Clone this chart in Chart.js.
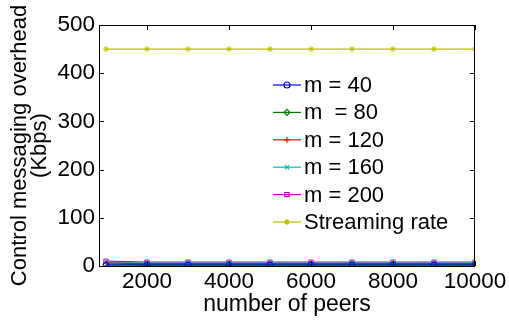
<!DOCTYPE html>
<html>
<head>
<meta charset="utf-8">
<script src="https://cdn.jsdelivr.net/npm/chart.js@4.4.0/dist/chart.umd.min.js"></script>
<style>
  html, body { margin: 0; padding: 0; background: #fff; }
  #wrap { width: 509px; height: 320px; }
</style>
</head>
<body>
<div id="wrap"><canvas id="myChart" width="509" height="320"></canvas></div>
<script>
// --- données ---
const peers = [1000, 2000, 3000, 4000, 5000, 6000, 7000, 8000, 9000, 10000];
const m40 = [2, 2, 2, 2, 2, 2, 2, 2, 2, 2];
const m80 = [4, 3, 3, 3, 3, 3, 3, 3, 3, 3];
const m120 = [6, 5, 5, 5, 5, 5, 5, 5, 5, 5];
const m160 = [8, 6, 6, 6, 6, 6, 6, 6, 6, 6];
const m200 = [10, 8, 8, 8, 8, 8, 8, 8, 8, 8];
const streamingRate = [450, 450, 450, 450, 450, 450, 450, 450, 450, 450];
const seriesLabels = ['m = 40', 'm  = 80', 'm = 120', 'm = 160', 'm = 200', 'Streaming rate'];
const yTicks = [0, 100, 200, 300, 400, 500];
const xTicks = [2000, 4000, 6000, 8000, 10000];

const FONT = 'Liberation Sans, Arial, sans-serif';

function pts(arr) { return arr.map((v, i) => ({ x: peers[i], y: v })); }

function ds(label, arr, color, style) {
    return {
        label, data: pts(arr), borderColor: color, backgroundColor: 'rgba(0,0,0,0)',
        pointStyle: style, pointRadius: 3, pointBorderColor: color, pointBorderWidth: 1,
        borderWidth: 1.2, tension: 0
    };
}

// cadre + petites graduations internes façon MATLAB, légende dans la zone
const matlabBox = {
    id: 'matlabBox',
    afterDraw(c) {
        const { ctx, chartArea: a, scales: { x, y } } = c;
        ctx.save();
        ctx.strokeStyle = '#000';
        ctx.lineWidth = 1;
        ctx.strokeRect(a.left + 0.5, a.top + 0.5, a.right - a.left - 1, a.bottom - a.top);
        ctx.beginPath();
        xTicks.forEach(t => {
            const px = Math.round(x.getPixelForValue(t)) + 0.5;
            ctx.moveTo(px, a.bottom); ctx.lineTo(px, a.bottom - 5);
            ctx.moveTo(px, a.top); ctx.lineTo(px, a.top + 5);
        });
        yTicks.forEach(t => {
            const py = Math.round(y.getPixelForValue(t)) + 0.5;
            ctx.moveTo(a.left, py); ctx.lineTo(a.left + 5, py);
            ctx.moveTo(a.right, py); ctx.lineTo(a.right - 5, py);
        });
        ctx.stroke();

        // légende
        const lx = 273, ly0 = 85, dy = 27.4;
        ctx.font = '22px ' + FONT;
        ctx.textBaseline = 'middle';
        ctx.textAlign = 'left';
        c.data.datasets.forEach((d, i) => {
            const yy = ly0 + i * dy;
            ctx.strokeStyle = d.borderColor;
            ctx.lineWidth = 1.2;
            ctx.beginPath(); ctx.moveTo(lx, yy); ctx.lineTo(lx + 28, yy); ctx.stroke();
            ctx.fillStyle = 'rgba(0,0,0,0)';
            Chart.helpers.drawPoint(ctx, { pointStyle: d.pointStyle, radius: 3, borderWidth: 1, rotation: 0 }, lx + 14, yy);
            ctx.fillStyle = '#000';
            ctx.fillText(seriesLabels[i], lx + 31, yy + 1);
        });
        ctx.restore();
    }
};

const ctx = document.getElementById('myChart').getContext('2d');
const chart = new Chart(ctx, {
    type: 'line',
    data: {
        datasets: [
            ds(seriesLabels[0], m40, '#0000ff', 'circle'),
            ds(seriesLabels[1], m80, '#008000', 'rectRot'),
            ds(seriesLabels[2], m120, '#ff0000', 'cross'),
            ds(seriesLabels[3], m160, '#00bfbf', 'crossRot'),
            ds(seriesLabels[4], m200, '#bf00bf', 'rect'),
            ds(seriesLabels[5], streamingRate, '#bfbf00', 'star')
        ]
    },
    options: {
        responsive: false,
        animation: false,
        layout: { padding: { top: 25, right: 34, left: 9, bottom: 0 } },
        plugins: { legend: { display: false }, tooltip: { enabled: false } },
        scales: {
            x: {
                type: 'linear', min: 830, max: 10000,
                afterBuildTicks: s => { s.ticks = xTicks.map(v => ({ value: v })); },
                afterFit: s => { s.height = 54; },
                grid: { display: false, drawTicks: false },
                border: { display: false },
                ticks: { color: '#000', font: { family: FONT, size: 22.5 }, padding: 2, maxRotation: 0, autoSkip: false, callback: v => String(v) },
                title: { display: true, text: 'number of peers', color: '#000', font: { family: FONT, size: 23, lineHeight: 1 }, padding: { top: 0, bottom: 4 } }
            },
            y: {
                min: 0, max: 500,
                afterBuildTicks: s => { s.ticks = yTicks.map(v => ({ value: v })); },
                afterFit: s => { s.width = 90; },
                grid: { display: false, drawTicks: false },
                border: { display: false },
                ticks: { color: '#000', font: { family: FONT, size: 22.5 }, padding: 4, callback: v => String(v) },
                title: { display: true, text: ['Control messaging overhead', '(Kbps)'], color: '#000', font: { family: FONT, size: 22, lineHeight: 0.95 }, padding: { top: 0, bottom: 0 } }
            }
        }
    },
    plugins: [matlabBox]
});
</script>
</body>
</html>
